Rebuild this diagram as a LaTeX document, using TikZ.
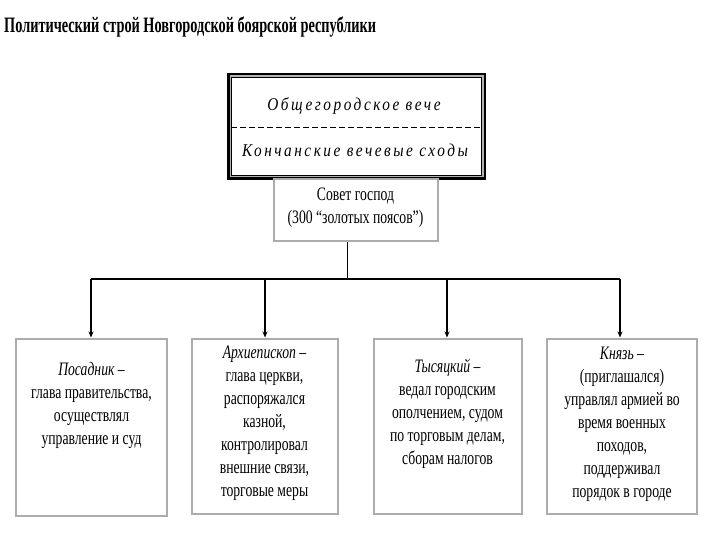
\documentclass[tikz,border=0pt]{standalone}
\usepackage{fontspec}
\setmainfont{Liberation Serif}
\newfontfamily\cond[FakeStretch=0.72]{Liberation Serif}
\newfontfamily\condt[FakeStretch=0.65]{Liberation Serif}
\newfontfamily\condsp[FakeStretch=0.85,LetterSpace=14]{Liberation Serif}
\usetikzlibrary{arrows.meta}
\tikzset{
  gbox/.style={draw=gray!65, line width=2pt, fill=white, inner sep=0pt,
    path picture={\draw[black,line width=1.4pt]
      (path picture bounding box.north west) -- (path picture bounding box.south west)
      -- (path picture bounding box.south east);}},
  txt/.style={align=center, font=\cond\fontsize{19}{23}\selectfont, inner sep=0pt, anchor=north},
  conn/.style={line width=1.2pt, black},
  arr/.style={conn, -{Stealth[length=6pt,width=5pt]}}
}
\begin{document}
\begin{tikzpicture}[x=1pt,y=-1pt]
\useasboundingbox (0,0) rectangle (720,540);
\node[anchor=west, inner sep=0pt, font=\condt\bfseries\fontsize{22}{24}\selectfont] (title) at (4,27) {Политический строй Новгородской боярской республики};

% top box
\node[draw=black, line width=2.6pt, minimum width=256pt, minimum height=104pt, inner sep=0pt] (veche) at (356.5,126.5) {};
\draw[gray!60, line width=1.4pt] ([shift={(3pt,-3pt)}]veche.north west) rectangle ([shift={(-3pt,3pt)}]veche.south east);
\draw[black, line width=0.7pt] ([shift={(4.5pt,-4.5pt)}]veche.north west) rectangle ([shift={(-4.5pt,4.5pt)}]veche.south east);
\coordinate (dl) at (231,127);
\coordinate (dr) at (481,127);
\draw[black, line width=0.8pt, dash pattern=on 6pt off 3pt] (dl) -- (dr);
\node[inner sep=0pt, font=\condsp\itshape\fontsize{18}{20}\selectfont] (v1) at (354,106) {Общегородское вече};
\node[inner sep=0pt, font=\condsp\itshape\fontsize{18}{20}\selectfont] (v2) at (355,150) {Кончанские вечевые сходы};

% council
\node[gbox, minimum width=164pt, minimum height=62pt] (sovet) at (355.5,210) {};
\node[txt, anchor=center] (sovett) at (355.5,208) {Совет господ\\(300 “золотых поясов”)};

% boxes
\node[gbox, minimum width=151pt, minimum height=177pt] (b1) at (91.5,427) {};
\node[gbox, minimum width=146pt, minimum height=175pt] (b2) at (264.5,426) {};
\node[gbox, minimum width=148pt, minimum height=175pt] (b3) at (447.5,426) {};
\node[gbox, minimum width=150pt, minimum height=175pt] (b4) at (622,426) {};

\node[txt] (t1) at (91.5,362) {\itshape Посадник –\\глава правительства,\\осуществлял\\управление и суд};
\node[txt] (t2) at (264.5,346) {\itshape Архиепископ –\\глава церкви,\\распоряжался\\казной,\\контролировал\\внешние связи,\\торговые меры};
\node[txt] (t3) at (447.5,359) {\itshape Тысяцкий –\\ведал городским\\ополчением, судом\\по торговым делам,\\сборам налогов};
\node[txt] (t4) at (622,347) {\itshape Князь –\\(приглашался)\\управлял армией во\\время военных\\походов,\\поддерживал\\порядок в городе};

% connectors
\coordinate (j) at (347,279);
\coordinate (h1) at (91,279);
\coordinate (h2) at (265,279);
\coordinate (h3) at (447,279);
\coordinate (h4) at (620,279);
\draw[black, line width=0.8pt] (sovet.south -| j) -- (j);
\draw[conn] (h1) -- (h4);
\draw[arr] (h1) -- (h1 |- b1.north);
\draw[arr] (h2) -- (h2 |- b2.north);
\draw[arr] (h3) -- (h3 |- b3.north);
\draw[arr] (h4) -- (h4 |- b4.north);
\end{tikzpicture}
\end{document}
